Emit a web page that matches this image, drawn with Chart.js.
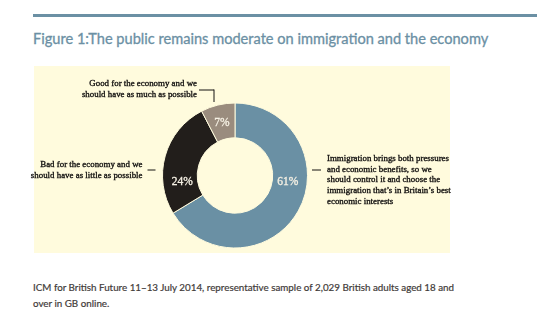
<!DOCTYPE html>
<html>
<head>
<meta charset="utf-8">
<script src="https://cdn.jsdelivr.net/npm/chart.js@4"></script>
<style>
  html, body { margin: 0; padding: 0; background: #fff; }
  #page { position: relative; width: 537px; height: 324px; overflow: hidden; }
  #rule { position: absolute; left: 33px; top: 14px; width: 504px; height: 3px; background: #6b90a4; }
  #title { position: absolute; left: 33px; top: 30px; font-family: Lato, sans-serif; font-size: 14.6px; color: #6b90a4; white-space: nowrap; -webkit-text-stroke: 0.3px #6b90a4; }
  #panel { position: absolute; left: 34px; top: 66px; width: 416px; height: 187px; background: #fffbdd; }
  #source { position: absolute; left: 33px; top: 279px; font-family: Lato, sans-serif; font-size: 9.8px; line-height: 16px; color: #3f3b39; white-space: nowrap; -webkit-text-stroke: 0.2px #3f3b39; }
  canvas { position: absolute; left: 0; top: 0; }
</style>
</head>
<body>
<div id="page">
  <div id="rule"></div>
  <div id="title">Figure 1:The public remains moderate on immigration and the economy</div>
  <div id="panel"></div>
  <div id="source">ICM for British Future 11–13 July 2014, representative sample of 2,029 British adults aged 18 and<br>over in GB online.</div>
  <canvas id="donut" width="537" height="324"></canvas>
</div>
<script>
// Opinion shares (%), clockwise from the top
const categories = [
  ['Immigration brings both pressures', 'and economic benefits, so we', 'should control it and choose the', 'immigration that\u2019s in Britain\u2019s best', 'economic interests'],
  ['Bad for the economy and we', 'should have as little as possible'],
  ['Good for the economy and we', 'should have as much as possible']
];
const shares = [61, 24, 7];
const sliceColors = ['#6a90a4', '#221e1b', '#9a8c7e'];

// where the % figures sit inside each ring slice (degrees clockwise from top)
const labelAngles = [96, 264, null];

const serif = '"Liberation Serif", "DejaVu Serif", serif';

// draw text slightly heavier than the plain face
function heavyText(ctx, t, x, y, w) {
  ctx.lineWidth = w;
  ctx.strokeText(t, x, y);
  ctx.fillText(t, x, y);
}

// Percent figures plus the callout texts with their leader lines
const calloutPlugin = {
  id: 'callouts',
  afterDatasetsDraw(chart) {
    const ctx = chart.ctx;
    const arcs = chart.getDatasetMeta(0).data;
    const cx = arcs[0].x, cy = arcs[0].y;
    const R = arcs[0].outerRadius, r = arcs[0].innerRadius;
    ctx.save();

    // percentages
    ctx.fillStyle = '#f6f1e4';
    ctx.strokeStyle = '#f6f1e4';
    ctx.font = '11.5px ' + serif;
    ctx.textAlign = 'center';
    ctx.textBaseline = 'middle';
    arcs.forEach((arc, i) => {
      let x, y;
      if (labelAngles[i] === null) {
        ({ x, y } = arc.tooltipPosition());
      } else {
        const a = labelAngles[i] * Math.PI / 180;
        const rr = (R + r) / 2 - 2;
        x = cx + Math.sin(a) * rr;
        y = cy - Math.cos(a) * rr;
      }
      heavyText(ctx, shares[i] + '%', x, y + 1, 0.3);
    });

    // callouts
    ctx.font = '8.9px ' + serif;
    ctx.fillStyle = '#141211';
    ctx.strokeStyle = '#141211';
    const lh = 10.7;
    const line = (x1, y1, x2, y2) => {
      ctx.lineWidth = 1;
      ctx.beginPath();
      ctx.moveTo(x1, y1);
      ctx.lineTo(x2, y2);
      ctx.stroke();
    };

    // right: large slice
    line(cx + R + 4.5, cy - 5.5, cx + R + 13.5, cy - 5.5);
    ctx.textAlign = 'left';
    categories[0].forEach((t, k) => heavyText(ctx, t, cx + R + 19.5, cy - 17 + k * lh, 0.35));

    // left: dark slice
    line(cx - R - 15, cy - 5.5, cx - R - 7, cy - 5.5);
    ctx.textAlign = 'right';
    categories[1].forEach((t, k) => heavyText(ctx, t, cx - R - 20, cy - 11 + k * lh, 0.35));

    // top: small slice, bracket leader
    const bx = cx - 21;
    line(bx - 15, cy - R - 13, bx, cy - R - 13);
    line(bx, cy - R - 13.5, bx, cy - R - 1);
    categories[2].forEach((t, k) => heavyText(ctx, t, bx - 17, cy - R - 19 + k * lh, 0.35));

    ctx.restore();
  }
};

new Chart(document.getElementById('donut'), {
  type: 'doughnut',
  data: {
    labels: categories.map(c => c.join(' ')),
    datasets: [{
      data: shares,
      backgroundColor: sliceColors,
      borderColor: '#fffbdd',
      borderWidth: 1
    }]
  },
  options: {
    responsive: false,
    animation: false,
    cutout: '52%',
    layout: { padding: { left: 162, right: 229, top: 102, bottom: 75 } },
    plugins: {
      legend: { display: false },
      tooltip: { enabled: false }
    }
  },
  plugins: [calloutPlugin]
});
</script>
</body>
</html>
